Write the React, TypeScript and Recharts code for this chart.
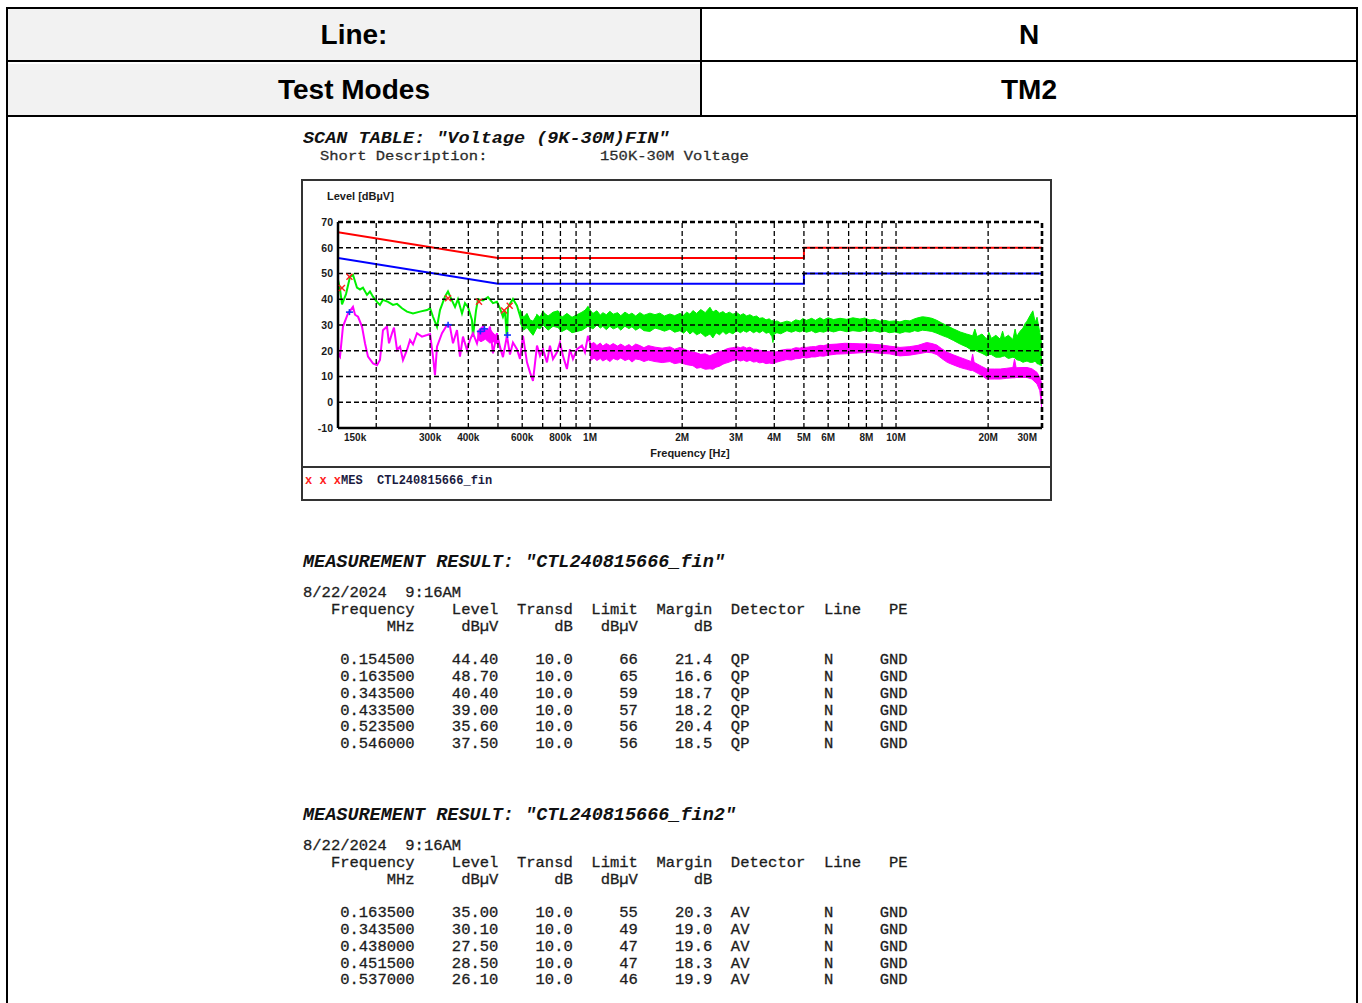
import React from 'react';
import { ComposedChart, Line, Area, Scatter, XAxis, YAxis, ReferenceLine } from 'recharts';

// ---------- header table ----------
const headerLabels = ['Line:', 'Test Modes'];
const headerValues = ['N', 'TM2'];

// ---------- scan table text ----------
const scanTitle = 'SCAN TABLE: "Voltage (9K-30M)FIN"';
const shortDescLabel = 'Short Description:';
const shortDescValue = '150K-30M Voltage';
const legendMarks = 'x x x';
const legendText = 'MES  CTL240815666_fin';

// ---------- axes ----------
const xTickFreqs = [0.15, 0.2, 0.3, 0.4, 0.5, 0.6, 0.7, 0.8, 0.9, 1, 2, 3, 4, 5, 6, 7, 8, 9, 10, 20, 30];
const xTickLabels = ['150k', '', '300k', '400k', '', '600k', '', '800k', '', '1M', '2M', '3M', '4M', '5M', '6M', '', '8M', '', '10M', '20M', '30M'];
const yTicks = [-10, 0, 10, 20, 30, 40, 50, 60, 70];

// ---------- limit lines (MHz, dBµV) ----------
const limitFreq = [0.15, 0.5, 5, 5, 30];
const qpLimitLevel = [66, 56, 56, 60, 60];
const avLimitLevel = [56, 46, 46, 50, 50];

// ---------- QP (green) trace, low band ----------
const qpTraceFreq = [0.150, 0.1523, 0.1546, 0.1593, 0.1642, 0.1679, 0.1730, 0.1770, 0.1810, 0.1866, 0.1908, 0.1952, 0.2011, 0.2057, 0.2104, 0.2186, 0.2269, 0.2339, 0.2428, 0.2521, 0.2638, 0.2780, 0.2931, 0.300, 0.3066, 0.3160, 0.3232, 0.3355, 0.3432, 0.3538, 0.3619, 0.3700, 0.3814, 0.3900, 0.3989, 0.4111, 0.4142, 0.4237, 0.4301, 0.4466, 0.4638, 0.4815, 0.4962, 0.5076, 0.5191, 0.5270, 0.5350, 0.5391, 0.5472, 0.5597, 0.5769, 0.5901, 0.6035, 0.6220, 0.6362, 0.6507, 0.6707, 0.6860, 0.7017, 0.7286, 0.7565, 0.7854, 0.8093, 0.8403, 0.8726, 0.9059, 0.9408, 0.9842, 1.0217];
const qpTraceLevel = [47.5, 44, 38, 42, 48.7, 49.5, 44.5, 43.8, 44.5, 41.7, 43, 41, 39, 37.8, 39.8, 39, 37.8, 38.2, 36.5, 35.2, 34.5, 35.2, 35.8, 36.5, 33.2, 29.3, 35.8, 41, 43, 39.5, 37, 40, 34.5, 38.5, 37, 32, 25.5, 35.5, 40, 39.5, 40.8, 38.5, 39, 36.5, 33.2, 35.6, 24.5, 37, 38.2, 40.1, 37.5, 33.6, 29.7, 33.6, 31, 26.5, 33.6, 32.3, 35, 31, 34.3, 35, 28.4, 33.6, 30.4, 29.7, 33.6, 36.9, 33.6];

// ---------- QP (green) noise band ----------
const qpBandFreq = [0.590, 0.606, 0.622, 0.636, 0.651, 0.671, 0.686, 0.702, 0.729, 0.757, 0.785, 0.809, 0.840, 0.873, 0.906, 0.941, 0.984, 1.022, 1.053, 1.08, 1.10, 1.13, 1.161, 1.19, 1.23, 1.26, 1.30, 1.34, 1.37, 1.41, 1.455, 1.50, 1.569, 1.63, 1.69, 1.75, 1.824, 1.89, 1.967, 2.02, 2.07, 2.12, 2.169, 2.23, 2.30, 2.38, 2.465, 2.52, 2.58, 2.65, 2.719, 2.78, 2.85, 2.93, 3.02, 3.10, 3.17, 3.25, 3.33, 3.42, 3.50, 3.58, 3.67, 3.76, 3.85, 3.93, 3.96, 4.0, 4.08, 4.2, 4.40, 4.55, 4.70, 4.85, 4.96, 5.1, 5.30, 5.45, 5.64, 5.8, 6.00, 6.25, 6.56, 6.9, 7.23, 7.62, 7.9, 8.22, 8.5, 8.86, 9.2, 9.5, 9.9, 10.3, 10.7, 11.1, 11.5, 11.8, 12.2, 12.6, 13.1, 13.6, 14.1, 14.7, 15.4, 16.2, 17.0, 17.8, 18.1, 18.4, 19.1, 19.8, 20.1, 20.5, 21.2, 21.9, 22.3, 22.6, 23.3, 24.1, 24.5, 24.8, 25.4, 26.0, 26.4, 26.8, 27.4, 28.0, 28.5, 28.9, 29.3, 29.5, 30.0];
const qpBandLow = [31, 28, 29, 27.5, 26, 29, 28.5, 30, 28, 29.5, 29, 27.5, 28.5, 27, 27.5, 28, 29.5, 28.5, 30, 28.8, 29.5, 28.2, 29.5, 28.5, 29.2, 28, 29.5, 28.6, 29.3, 28, 29, 27.8, 27.5, 28.8, 28.3, 27.6, 28.4, 27.2, 27.8, 26.8, 28, 26.5, 27.5, 26.2, 27, 25.5, 26.5, 25, 27, 26.2, 27.5, 26.4, 27.2, 26.6, 27.8, 27, 27.8, 27.2, 28, 27, 27.6, 27, 27.8, 26.8, 27.2, 25.5, 23.2, 26.5, 27, 26.6, 27.8, 27.2, 27.8, 27.3, 27.8, 27.2, 27.8, 27, 27.5, 27.2, 27.9, 27.3, 28, 27.4, 27.8, 27.5, 28, 27.4, 27.8, 27.2, 27.6, 27, 27.3, 26.8, 27.4, 27.2, 27.8, 27.5, 28, 27.8, 27.5, 26.8, 26, 25.2, 24, 22.6, 21.5, 20, 20.2, 19.8, 19, 18, 18.6, 18.5, 17.5, 17.5, 17.8, 18, 17, 17.5, 17.2, 16.5, 16.2, 15.5, 15.8, 16, 15.5, 15.5, 16, 15, 14.8, 14.5, 14.2];
const qpBandHigh = [36, 33, 34.5, 32, 31.5, 34, 33, 35, 33.5, 35, 35.5, 33, 34.5, 33, 34, 35, 36.5, 34.5, 35.5, 33.8, 34.8, 34, 35.3, 34.2, 34.8, 33.6, 35, 34, 34.6, 33.5, 34.8, 33.8, 34.6, 34, 34.6, 33.5, 34.3, 33.6, 34.5, 33.8, 35, 34.2, 35.6, 34.5, 36, 34.8, 36.9, 35, 35.8, 34.6, 35.2, 34.3, 35, 34.2, 34.8, 33.8, 34.4, 33.5, 34, 33.2, 33.5, 32.6, 32.8, 32, 32.4, 31.5, 31.8, 31.2, 31.6, 30.8, 31.5, 31, 32, 31.6, 32.5, 31.8, 32.6, 31.8, 32.8, 32, 32.8, 32.1, 32.6, 32.2, 32.8, 32.3, 32.7, 31.9, 32.2, 31.5, 31.8, 31.4, 31.6, 31.2, 31.8, 31.6, 32.4, 32.8, 33.2, 33, 32.6, 31.8, 30.8, 29.7, 28.5, 27.3, 26.5, 25.8, 28.4, 25.5, 26.5, 24.5, 27.2, 24.8, 26, 24.5, 27.6, 25, 26, 24.4, 28.4, 25.5, 27.5, 28.8, 30.5, 31.5, 33.6, 35.5, 31, 33, 29, 27, 22];

// ---------- AV (magenta) trace, low band ----------
const avTraceFreq = [0.150, 0.1523, 0.1557, 0.1617, 0.1642, 0.1679, 0.1705, 0.1744, 0.1797, 0.1838, 0.1880, 0.1952, 0.2011, 0.2057, 0.2104, 0.2169, 0.2202, 0.2252, 0.2286, 0.2339, 0.2392, 0.2446, 0.2521, 0.2579, 0.2638, 0.2718, 0.2822, 0.2931, 0.300, 0.3066, 0.3112, 0.3160, 0.3281, 0.3407, 0.3484, 0.3564, 0.3673, 0.3756, 0.3842, 0.3960, 0.4050, 0.4142, 0.4269, 0.4367, 0.4466, 0.4603, 0.4708, 0.4815, 0.4962, 0.5076, 0.5191, 0.5350, 0.5472, 0.5597, 0.5769, 0.5901, 0.6035, 0.6220, 0.6362, 0.6507, 0.6707, 0.6860, 0.7017, 0.7229, 0.7394, 0.7565, 0.7795, 0.7973, 0.8155, 0.8403, 0.8596, 0.8792, 0.9059, 0.9408, 0.9623, 0.9842, 1.0144];
const avTraceLevel = [19, 17.7, 29.4, 34.5, 35.5, 37.1, 34, 33.2, 29.4, 22.9, 17.7, 15.1, 14.4, 16.4, 28, 29.4, 22.9, 26.8, 29, 20.3, 21.6, 16.4, 20.3, 24.2, 22.5, 26.8, 25.5, 26.1, 26.5, 17.7, 10.5, 21.6, 26.8, 30, 29.4, 22.9, 28, 17.7, 25.5, 20.3, 24.2, 26.8, 22.9, 28, 29.4, 25.5, 29.4, 19, 26.8, 21.5, 17.5, 25.8, 18.5, 23.2, 20.6, 16.8, 25.8, 15.5, 11.6, 8.3, 22, 18, 20.6, 15.5, 22, 16.8, 19.4, 23.2, 18, 12.9, 20.6, 16.8, 20.6, 22, 19.4, 25.8, 20.6];

// ---------- AV (magenta) dense region near 450 kHz ----------
const avBlobFreq = [0.428, 0.44, 0.455, 0.47, 0.485, 0.50];
const avBlobLow = [24.5, 23.5, 24.5, 23, 23.5, 22.5];
const avBlobHigh = [27.5, 29, 28, 28.5, 26.5, 25.5];

// ---------- AV (magenta) noise band ----------
const avBandFreq = [1.00, 1.03, 1.053, 1.08, 1.10, 1.13, 1.161, 1.19, 1.23, 1.26, 1.30, 1.34, 1.37, 1.41, 1.455, 1.50, 1.55, 1.63, 1.72, 1.824, 1.89, 1.967, 2.07, 2.169, 2.23, 2.30, 2.38, 2.465, 2.52, 2.58, 2.65, 2.719, 2.78, 2.85, 2.93, 3.02, 3.10, 3.17, 3.25, 3.33, 3.42, 3.50, 3.58, 3.67, 3.76, 3.85, 3.96, 4.08, 4.20, 4.40, 4.55, 4.70, 4.85, 4.96, 5.1, 5.30, 5.45, 5.64, 5.8, 6.00, 6.41, 6.8, 7.23, 7.62, 8.22, 8.86, 9.5, 10.3, 11.1, 11.8, 12.6, 13.1, 13.6, 14.1, 14.7, 15.4, 16.2, 17.0, 17.6, 17.8, 18.0, 19.0, 19.8, 21.0, 21.9, 23.0, 24.1, 24.4, 24.7, 26.0, 26.8, 27.8, 28.9, 29.5, 30.0];
const avBandLow = [16, 17.2, 16.2, 17, 16, 16.8, 15.8, 17, 16.4, 17.2, 16.2, 16.8, 15.6, 16.8, 16.5, 15.8, 16.4, 15.8, 15.4, 15.8, 15, 15.4, 14.6, 14.2, 13.2, 13.5, 12.8, 13, 12.8, 13.6, 14, 14.8, 15.2, 15.6, 16.2, 16.6, 16, 16.4, 15.8, 16.3, 15.6, 15.8, 15.3, 15.5, 15, 15.2, 15, 15.6, 16, 16.6, 16.4, 16.9, 17, 17.4, 17.2, 17.6, 17.6, 18, 17.9, 18.3, 18.7, 18.8, 19, 19.2, 19.4, 19, 18.8, 18, 18.3, 18.8, 19.4, 19.2, 18.5, 17, 15.5, 14.5, 13.5, 12.8, 12.3, 12.3, 12, 10.5, 9, 9, 9, 9.3, 9.5, 9.5, 9.6, 9.6, 9.6, 9, 7.1, 4.5, -3];
const avBandHigh = [22.5, 23.2, 22, 23, 21.8, 22.8, 22, 22.8, 21.8, 22.6, 21.6, 22.4, 21.5, 22.6, 22, 21.2, 22, 21.4, 21, 21.5, 20.6, 21.3, 20.2, 19.4, 19.2, 18.6, 18.8, 18, 18.6, 19, 19.8, 20, 20.6, 21, 21.2, 21.5, 21.2, 21.6, 21, 21.4, 20.6, 20.6, 20.2, 20, 19.6, 19.8, 19.4, 19.6, 20.2, 20.6, 20.6, 21.2, 21, 21.4, 21.3, 21.6, 21.6, 22.1, 22, 22.4, 22.6, 22.9, 22.8, 22.7, 22.6, 22.3, 21.8, 21.3, 21.6, 22.1, 23.2, 22.8, 22.2, 20.8, 19.4, 18.4, 17.4, 16.5, 15.8, 18.7, 15.5, 14, 12.9, 12.9, 12.9, 13.2, 13.5, 16.8, 13.4, 13.5, 13.5, 13, 11.6, 9.6, 7];

// ---------- measurement results ----------
const resDate = '8/22/2024  9:16AM';
const qpResFreq = ['0.154500', '0.163500', '0.343500', '0.433500', '0.523500', '0.546000'];
const qpResLevel = ['44.40', '48.70', '40.40', '39.00', '35.60', '37.50'];
const qpResTransd = ['10.0', '10.0', '10.0', '10.0', '10.0', '10.0'];
const qpResLimit = ['66', '65', '59', '57', '56', '56'];
const qpResMargin = ['21.4', '16.6', '18.7', '18.2', '20.4', '18.5'];
const avResFreq = ['0.163500', '0.343500', '0.438000', '0.451500', '0.537000'];
const avResLevel = ['35.00', '30.10', '27.50', '28.50', '26.10'];
const avResTransd = ['10.0', '10.0', '10.0', '10.0', '10.0'];
const avResLimit = ['55', '49', '47', '47', '46'];
const avResMargin = ['20.3', '19.0', '19.6', '18.3', '19.9'];

// ---------- build series ----------
const zip = (fs: number[], vs: number[]) => fs.map((f, i) => ({ f, v: vs[i] }));
const zipRange = (fs: number[], lo: number[], hi: number[]) => fs.map((f, i) => ({ f, r: [lo[i], hi[i]] }));
const qpLimit = zip(limitFreq, qpLimitLevel);
const avLimit = zip(limitFreq, avLimitLevel);
const qpTrace = zip(qpTraceFreq, qpTraceLevel);
const avTrace = zip(avTraceFreq, avTraceLevel);
const qpBand = zipRange(qpBandFreq, qpBandLow, qpBandHigh);
const avBand = zipRange(avBandFreq, avBandLow, avBandHigh);
const avBlob = zipRange(avBlobFreq, avBlobLow, avBlobHigh);
const qpMarks = zip(qpResFreq.map(Number), qpResLevel.map(Number));
const avMarks = zip(avResFreq.map(Number), avResLevel.map(Number));

const mono = '"Liberation Mono", "Courier New", monospace';
const sans = '"Liberation Sans", Arial, sans-serif';
const GREEN = '#00f000';
const MAGENTA = '#ff00ff';

const XTick = (props: any) => {
  const { x, y, payload } = props;
  const i = xTickFreqs.indexOf(payload.value);
  const label = i >= 0 ? xTickLabels[i] : '';
  if (!label) return null;
  let anchor: any = 'middle';
  let dx = 0;
  if (i === 0) { anchor = 'start'; dx = 6; }
  if (i === xTickFreqs.length - 1) { anchor = 'end'; dx = -5; }
  return (
    <text x={x + dx} y={y} dy="0.5em" textAnchor={anchor} fontFamily={sans} fontSize={10} fontWeight={700} fill="#1a1a1a">{label}</text>
  );
};

const YTick = (props: any) => {
  const { x, y, payload } = props;
  return (
    <text x={x + 3} y={y} dy="0.36em" textAnchor="end" fontFamily={sans} fontSize={10.5} fontWeight={700} fill="#1a1a1a">{payload.value}</text>
  );
};

const XMark = (props: any) => {
  const { cx, cy } = props;
  if (cx == null || cy == null) return null;
  return (
    <g stroke="#ff2020" strokeWidth={1.4}>
      <line x1={cx - 3} y1={cy - 3} x2={cx + 3} y2={cy + 3} />
      <line x1={cx - 3} y1={cy + 3} x2={cx + 3} y2={cy - 3} />
    </g>
  );
};

const PlusMark = (props: any) => {
  const { cx, cy } = props;
  if (cx == null || cy == null) return null;
  return (
    <g stroke="#1030ff" strokeWidth={1.6}>
      <line x1={cx - 3.5} y1={cy} x2={cx + 3.5} y2={cy} />
      <line x1={cx} y1={cy - 3} x2={cx} y2={cy + 3} />
    </g>
  );
};

const fmtRows = (freq: string[], level: string[], transd: string[], limit: string[], margin: string[], det: string) =>
  freq.map((f, i) =>
    '    ' + f.padStart(8) + level[i].padStart(9) + transd[i].padStart(8) + limit[i].padStart(7) + margin[i].padStart(8) +
    '  ' + det.padEnd(10) + 'N'.padEnd(6) + 'GND'
  ).join('\n');

const headLine = '   Frequency    Level  Transd  Limit  Margin  Detector  Line   PE';
const unitLine = '         MHz     dB\u00b5V      dB   dB\u00b5V      dB';

const bodyText: React.CSSProperties = { fontFamily: mono, fontSize: 15.5, color: '#1c1c1c', WebkitTextStroke: '0.3px #1c1c1c' } as any;

const ResultBlock = ({ top, name, rows }: { top: number; name: string; rows: string }) => (
  <>
    <div style={{ position: 'absolute', left: 303, top: top - 9, fontFamily: mono, fontSize: 18.5, lineHeight: '22px', fontWeight: 700, fontStyle: 'italic', color: '#111', whiteSpace: 'pre' }}>
      {'MEASUREMENT RESULT: "' + name + '"'}
    </div>
    <pre style={{ position: 'absolute', left: 303, top: top + 31 - 7, margin: 0, lineHeight: '16.8px', ...bodyText }}>
      {resDate + '\n' + headLine + '\n' + unitLine + '\n\n' + rows}
    </pre>
  </>
);

const gridX = xTickFreqs.slice(1);
const gridY = yTicks.slice(1);

export default function App() {
  return (
    <div style={{ position: 'absolute', left: 0, top: 0, width: 1362, height: 1003, overflow: 'hidden', background: '#fff' }}>
      {/* header table */}
      <div style={{ position: 'absolute', left: 6, top: 7, width: 1352, height: 1010, border: '2px solid #000', boxSizing: 'border-box' }} />
      {headerLabels.map((lab, i) => (
        <React.Fragment key={i}>
          <div style={{ position: 'absolute', left: 8, top: 9 + i * 55, width: 692, height: 51 + (i === 1 ? 1 : 0), background: '#f2f2f2', display: 'flex', alignItems: 'center', justifyContent: 'center', fontFamily: sans, fontWeight: 700, fontSize: 28, color: '#000' }}>{lab}</div>
          <div style={{ position: 'absolute', left: 702, top: 9 + i * 55, width: 654, height: 51 + (i === 1 ? 1 : 0), display: 'flex', alignItems: 'center', justifyContent: 'center', fontFamily: sans, fontWeight: 700, fontSize: 28, color: '#000' }}>{headerValues[i]}</div>
          <div style={{ position: 'absolute', left: 6, top: 60 + i * 55, width: 1352, height: 2, background: '#000' }} />
        </React.Fragment>
      ))}
      <div style={{ position: 'absolute', left: 700, top: 7, width: 2, height: 110, background: '#000' }} />

      {/* scan table title */}
      <div style={{ position: 'absolute', left: 303, top: 128.5, fontFamily: mono, fontSize: 18.5, lineHeight: 'normal', fontWeight: 700, fontStyle: 'italic', color: '#111', whiteSpace: 'pre', transform: 'scaleY(0.85)', transformOrigin: '50% 50%' }}>{scanTitle}</div>
      <div style={{ position: 'absolute', left: 320, top: 147.5, lineHeight: 'normal', whiteSpace: 'pre', ...bodyText, color: '#333', transform: 'scaleY(0.85)', transformOrigin: '50% 50%' }}>{shortDescLabel}</div>
      <div style={{ position: 'absolute', left: 600, top: 147.5, lineHeight: 'normal', whiteSpace: 'pre', ...bodyText, color: '#333', transform: 'scaleY(0.85)', transformOrigin: '50% 50%' }}>{shortDescValue}</div>

      {/* chart frame */}
      <div style={{ position: 'absolute', left: 301, top: 179, width: 751, height: 322, border: '2px solid #333', boxSizing: 'border-box' }} />
      <div style={{ position: 'absolute', left: 301, top: 466, width: 751, height: 2, background: '#333' }} />
      <div style={{ position: 'absolute', left: 327, top: 190, fontFamily: sans, fontSize: 11, fontWeight: 700, color: '#1a1a1a', whiteSpace: 'pre' }}>{'Level [dB\u00b5V]'}</div>
      <div style={{ position: 'absolute', left: 590, width: 200, top: 447, textAlign: 'center', fontFamily: sans, fontSize: 11, fontWeight: 700, color: '#1a1a1a', whiteSpace: 'pre' }}>{'Frequency [Hz]'}</div>
      <div style={{ position: 'absolute', left: 305, top: 474, fontFamily: mono, fontSize: 12, lineHeight: '14px', fontWeight: 700, whiteSpace: 'pre' }}>
        <span style={{ color: '#ff2020' }}>{legendMarks}</span>
        <span style={{ color: '#1a1a40' }}>{legendText}</span>
      </div>

      <div style={{ position: 'absolute', left: 302, top: 180 }}>
        <ComposedChart width={749} height={287} margin={{ top: 42, right: 9, bottom: 9, left: 0 }}>
          <XAxis dataKey="f" type="number" scale="log" domain={[0.15, 30]} ticks={xTickFreqs} interval={0} tick={<XTick />} tickLine={false} axisLine={{ stroke: '#000', strokeWidth: 2.5 }} height={30} allowDataOverflow />
          <YAxis dataKey="v" type="number" domain={[-10, 70]} ticks={yTicks} interval={0} tick={<YTick />} tickLine={false} axisLine={{ stroke: '#000', strokeWidth: 2.5 }} width={36} allowDataOverflow />
          <Area data={qpBand} dataKey="r" type="linear" stroke={GREEN} strokeWidth={1} fill={GREEN} fillOpacity={1} dot={false} activeDot={false} isAnimationActive={false} />
          <Area data={avBand} dataKey="r" type="linear" stroke={MAGENTA} strokeWidth={1} fill={MAGENTA} fillOpacity={1} dot={false} activeDot={false} isAnimationActive={false} />
          <Area data={avBlob} dataKey="r" type="linear" stroke={MAGENTA} strokeWidth={1} fill={MAGENTA} fillOpacity={1} dot={false} activeDot={false} isAnimationActive={false} />
          <Line data={qpTrace} dataKey="v" type="linear" stroke={GREEN} strokeWidth={2} dot={false} activeDot={false} isAnimationActive={false} />
          <Line data={avTrace} dataKey="v" type="linear" stroke={MAGENTA} strokeWidth={2} dot={false} activeDot={false} isAnimationActive={false} />
          <Line data={qpLimit} dataKey="v" type="linear" stroke="#ff0000" strokeWidth={2} dot={false} activeDot={false} isAnimationActive={false} />
          <Line data={avLimit} dataKey="v" type="linear" stroke="#0000ff" strokeWidth={2} dot={false} activeDot={false} isAnimationActive={false} />
          <Scatter data={qpMarks} dataKey="v" shape={XMark} isAnimationActive={false} />
          <Scatter data={avMarks} dataKey="v" shape={PlusMark} isAnimationActive={false} />
          {gridY.map((y) => (
            <ReferenceLine key={'gy' + y} y={y} stroke="#000" strokeWidth={y === 70 ? 2.6 : 1.3} strokeDasharray="5 3" />
          ))}
          {gridX.map((x) => (
            <ReferenceLine key={'gx' + x} x={x} stroke="#000" strokeWidth={x === 30 ? 2.6 : 1.3} strokeDasharray="5 3" />
          ))}
        </ComposedChart>
      </div>

      <ResultBlock top={561} name="CTL240815666_fin" rows={fmtRows(qpResFreq, qpResLevel, qpResTransd, qpResLimit, qpResMargin, 'QP')} />
      <ResultBlock top={814} name="CTL240815666_fin2" rows={fmtRows(avResFreq, avResLevel, avResTransd, avResLimit, avResMargin, 'AV')} />
    </div>
  );
}
